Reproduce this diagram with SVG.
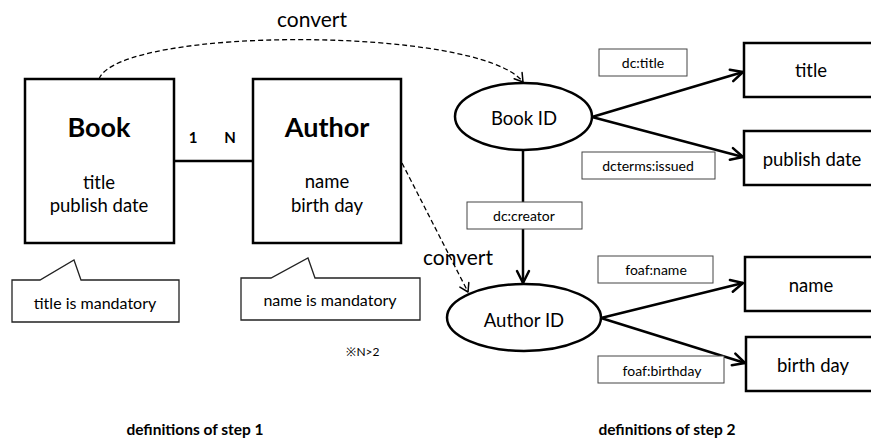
<svg xmlns="http://www.w3.org/2000/svg" width="871" height="440" viewBox="0 0 871 440">
<style>
text{font-family:Lato,"Open Sans","Liberation Sans",sans-serif;fill:#000;text-anchor:middle}
.box{fill:#fff;stroke:#000;stroke-width:2.5}
.lbl{fill:#fff;stroke:#444;stroke-width:1}
.call{fill:#fff;stroke:#222;stroke-width:1.3}
.edge{fill:none;stroke:#000;stroke-width:2.5}
.dash{fill:none;stroke:#000;stroke-width:1.3;stroke-dasharray:5 3}
.big{font-size:27px;font-weight:bold}
.body{font-size:18.5px}
.small{font-size:14px}
.note{font-size:16px}
.foot{font-size:15.5px;font-weight:bold}
</style>
<defs>
<marker id="arr" viewBox="-14 -8 16 16" refX="0" refY="0" markerWidth="16" markerHeight="16" orient="auto" markerUnits="userSpaceOnUse">
<path d="M-12,-6 L0,0 L-12,6" fill="none" stroke="#000" stroke-width="2.5" stroke-linecap="round" stroke-linejoin="round"/>
</marker>
<marker id="darr" viewBox="-10 -7 12 14" refX="0" refY="0" markerWidth="12" markerHeight="14" orient="auto" markerUnits="userSpaceOnUse">
<path d="M-8,-5 L0,0 L-8,5" fill="none" stroke="#000" stroke-width="1.5" stroke-linecap="round" stroke-linejoin="round"/>
</marker>
</defs>

<g id="connectors">
<line class="edge" x1="174" y1="161" x2="253" y2="161"/>
<path class="dash" d="M99,79 C120,26 480,26 523,82" marker-end="url(#darr)"/>
<path class="dash" d="M402,163 L468,292" marker-end="url(#darr)"/>
<line class="edge" x1="592" y1="117" x2="743" y2="72" marker-end="url(#arr)"/>
<line class="edge" x1="592" y1="117" x2="743" y2="157" marker-end="url(#arr)"/>
<line class="edge" x1="523" y1="150" x2="523" y2="283" marker-end="url(#arr)"/>
<line class="edge" x1="601" y1="318" x2="743" y2="283" marker-end="url(#arr)"/>
<line class="edge" x1="601" y1="318" x2="745" y2="363" marker-end="url(#arr)"/>
</g>

<g id="book">
<rect class="box" x="25" y="79" width="149" height="164"/>
<text class="big" x="99" y="137">Book</text>
<text class="body" x="99" y="189">title</text>
<text class="body" x="99" y="212">publish date</text>
</g>
<g id="author">
<rect class="box" x="253" y="79" width="148" height="164"/>
<text class="big" x="327" y="137">Author</text>
<text class="body" x="327" y="188">name</text>
<text class="body" x="327" y="212">birth day</text>
</g>
<g id="rel-labels">
<text x="193" y="143" style="font-size:15px;font-weight:bold">1</text>
<text x="230" y="143" style="font-size:15px;font-weight:bold">N</text>
</g>
<g id="note-book">
<path class="call" d="M12,280 L40,280 L74,260 L81,280 L179,280 L179,322 L12,322 Z"/>
<text class="note" x="95" y="309">title is mandatory</text>
</g>
<g id="note-author">
<path class="call" d="M241,278 L271,278 L308,258 L315,278 L420,278 L420,320 L241,320 Z"/>
<text class="note" x="330" y="306">name is mandatory</text>
</g>
<g id="convert-labels">
<text x="312" y="27" style="font-size:21px">convert</text>
<text x="458" y="265" style="font-size:21px">convert</text>
</g>
<text x="363" y="356" style="font-size:12px">※N&gt;2</text>

<g id="book-id">
<ellipse class="box" cx="523.5" cy="116.5" rx="68.5" ry="33.5"/>
<text class="body" x="524" y="125">Book ID</text>
</g>
<g id="author-id">
<ellipse class="box" cx="524" cy="317.5" rx="77" ry="33.5"/>
<text class="body" x="524" y="327">Author ID</text>
</g>

<g id="lbl-dctitle">
<rect class="lbl" x="599" y="49" width="88" height="27"/>
<text class="small" x="643" y="68">dc:title</text>
</g>
<g id="lbl-dcterms">
<rect class="lbl" x="582" y="152" width="133" height="27"/>
<text class="small" x="648" y="171">dcterms:issued</text>
</g>
<g id="lbl-dccreator">
<rect class="lbl" x="467" y="202" width="115" height="27"/>
<text class="small" x="524" y="221">dc:creator</text>
</g>
<g id="lbl-foafname">
<rect class="lbl" x="598" y="256" width="115" height="27"/>
<text class="small" x="656" y="275">foaf:name</text>
</g>
<g id="lbl-foafbirthday">
<rect class="lbl" x="598" y="356" width="126" height="27"/>
<text class="small" x="662" y="376">foaf:birthday</text>
</g>

<g id="title-node">
<rect class="box" x="744" y="43" width="140" height="54"/>
<text class="body" x="811" y="77">title</text>
</g>
<g id="publish-node">
<rect class="box" x="744" y="131" width="140" height="54"/>
<text class="body" x="812" y="166">publish date</text>
</g>
<g id="name-node">
<rect class="box" x="745" y="257" width="140" height="54"/>
<text class="body" x="811" y="292">name</text>
</g>
<g id="birthday-node">
<rect class="box" x="746" y="337" width="140" height="54"/>
<text class="body" x="813" y="372">birth day</text>
</g>

<text class="foot" x="195" y="435">definitions of step 1</text>
<text class="foot" x="667" y="435">definitions of step 2</text>
</svg>
